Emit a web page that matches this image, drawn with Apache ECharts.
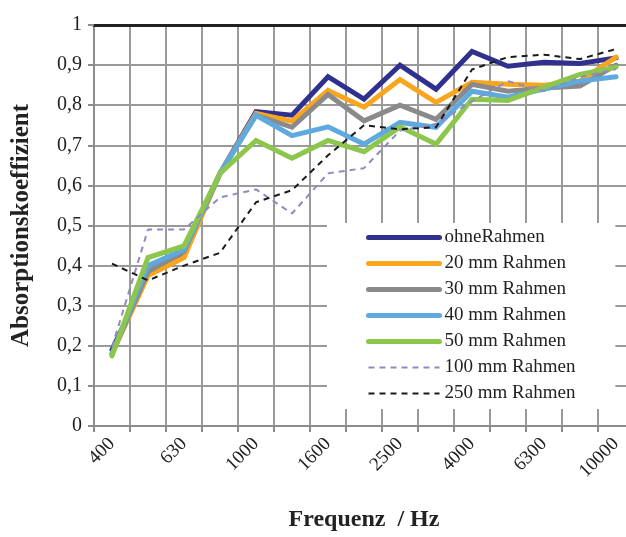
<!DOCTYPE html>
<html>
<head>
<meta charset="utf-8">
<script src="https://cdn.jsdelivr.net/npm/echarts@6/dist/echarts.min.js"></script>
<style>
    html, body {margin: 0; padding: 0; background: #fff; overflow: hidden;}
    #chart {width: 640px; height: 537px;}
</style>
</head>
<body>
<div id="chart"></div>
<script>
var categories = ['400', '500', '630', '800', '1000', '1250', '1600', '2000', '2500', '3150', '4000', '5000', '6300', '8000', '10000'];
var yTicks = [0, 0.1, 0.2, 0.3, 0.4, 0.5, 0.6, 0.7, 0.8, 0.9, 1];

var ohneRahmen = [0.19, 0.38, 0.43, 0.63, 0.784, 0.775, 0.871, 0.815, 0.90, 0.84, 0.934, 0.897, 0.907, 0.904, 0.918];
var rahmen20 = [0.18, 0.375, 0.42, 0.63, 0.78, 0.76, 0.837, 0.795, 0.864, 0.807, 0.857, 0.852, 0.85, 0.86, 0.92];
var rahmen30 = [0.18, 0.385, 0.435, 0.63, 0.775, 0.745, 0.827, 0.761, 0.80, 0.765, 0.852, 0.835, 0.843, 0.848, 0.90];
var rahmen40 = [0.18, 0.40, 0.44, 0.63, 0.775, 0.724, 0.746, 0.703, 0.757, 0.745, 0.835, 0.82, 0.84, 0.86, 0.871];
var rahmen50 = [0.175, 0.42, 0.449, 0.63, 0.712, 0.668, 0.712, 0.684, 0.746, 0.703, 0.815, 0.812, 0.845, 0.877, 0.895];
var rahmen100 = [0.197, 0.49, 0.49, 0.57, 0.59, 0.53, 0.63, 0.643, 0.737, 0.753, 0.81, 0.86, 0.835, 0.87, 0.89];
var rahmen250 = [0.405, 0.363, 0.40, 0.432, 0.558, 0.588, 0.675, 0.75, 0.74, 0.745, 0.889, 0.92, 0.926, 0.915, 0.94];

var serifFont = '"Liberation Serif", "Times New Roman", serif';

function solidLine(name, data, color) {
    return {
        name: name,
        type: 'line',
        data: data,
        showSymbol: false,
        symbol: 'none',
        lineStyle: {color: color, width: 5, cap: 'round', join: 'miter'},
        itemStyle: {color: color}
    };
}

function dashedLine(name, data, color) {
    return {
        name: name,
        type: 'line',
        data: data,
        showSymbol: false,
        symbol: 'none',
        lineStyle: {color: color, width: 2, type: [6, 5]},
        itemStyle: {color: color}
    };
}

// legend entries, solid ones drawn thick like the series
function legendItem(name, width) {
    return {name: name, lineStyle: {width: width}};
}

var chart = echarts.init(document.getElementById('chart'));

chart.setOption({
    animation: false,
    backgroundColor: '#fff',
    grid: {left: 94, top: 25, width: 540, height: 405},
    legend: {
        orient: 'vertical',
        left: 327,
        top: 223,
        backgroundColor: '#fff',
        padding: [5, 40, 6, 39],
        itemWidth: 71,
        itemHeight: 14,
        itemGap: 7,
        itemTextGap: 8,
        itemStyle: {opacity: 0},
        textStyle: {fontFamily: serifFont, fontSize: 19, color: '#222', lineHeight: 19},
        data: [
            legendItem('ohneRahmen', 5),
            legendItem('20 mm Rahmen', 5),
            legendItem('30 mm Rahmen', 5),
            legendItem('40 mm Rahmen', 5),
            legendItem('50 mm Rahmen', 5),
            legendItem('100 mm Rahmen', 2),
            legendItem('250 mm Rahmen', 2)
        ]
    },
    xAxis: [{
        type: 'category',
        data: categories,
        boundaryGap: true,
        name: 'Frequenz  / Hz',
        nameLocation: 'middle',
        nameGap: 82,
        nameTextStyle: {fontFamily: serifFont, fontSize: 24, fontWeight: 'bold', color: '#222'},
        axisLine: {lineStyle: {color: '#8c8c8c', width: 2}},
        axisTick: {show: true, interval: 0, length: 6, lineStyle: {color: '#8c8c8c', width: 2}},
        splitLine: {show: true, interval: 0, lineStyle: {color: '#9a9a9a', width: 2}},
        axisLabel: {
            interval: 1,
            rotate: 45,
            margin: 15,
            fontFamily: serifFont,
            fontSize: 19,
            color: '#222'
        }
    }, {
        type: 'category',
        data: categories,
        position: 'top',
        axisLine: {lineStyle: {color: '#222', width: 3}},
        axisTick: {show: false},
        axisLabel: {show: false},
        splitLine: {show: false}
    }],
    yAxis: {
        type: 'value',
        min: yTicks[0],
        max: yTicks[yTicks.length - 1],
        interval: 0.1,
        name: 'Absorptionskoeffizient',
        nameLocation: 'middle',
        nameGap: 60,
        nameTextStyle: {fontFamily: serifFont, fontSize: 25, fontWeight: 'bold', color: '#222'},
        axisLine: {show: true, lineStyle: {color: '#8c8c8c', width: 2}},
        axisTick: {show: true, length: 6, lineStyle: {color: '#8c8c8c', width: 2}},
        splitLine: {show: true, lineStyle: {color: '#9a9a9a', width: 2}},
        axisLabel: {
            margin: 12,
            fontFamily: serifFont,
            fontSize: 20,
            color: '#222',
            formatter: function (v) {
                return String(Math.round(v * 10) / 10).replace('.', ',');
            }
        }
    },
    series: [
        solidLine('ohneRahmen', ohneRahmen, '#30318f'),
        solidLine('20 mm Rahmen', rahmen20, '#f9a51e'),
        solidLine('30 mm Rahmen', rahmen30, '#8a8a8c'),
        solidLine('40 mm Rahmen', rahmen40, '#5eaadf'),
        solidLine('50 mm Rahmen', rahmen50, '#8dc64c'),
        dashedLine('100 mm Rahmen', rahmen100, '#8c8cbf'),
        dashedLine('250 mm Rahmen', rahmen250, '#1a1a1a')
    ]
});
</script>
</body>
</html>
